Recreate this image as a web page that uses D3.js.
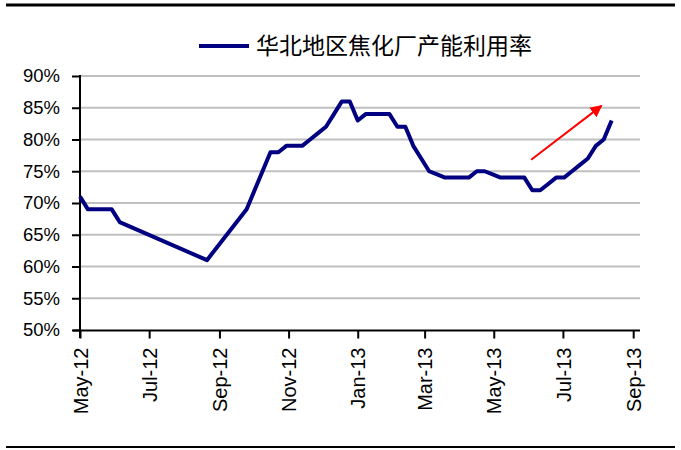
<!DOCTYPE html>
<html>
<head>
<meta charset="utf-8">
<script src="https://cdn.jsdelivr.net/npm/d3@7"></script>
<style>
html,body{margin:0;padding:0;background:#fff;}
svg{display:block;}
</style>
</head>
<body>
<svg id="chart" width="681" height="450"></svg>
<script>
const seriesName = "华北地区焦化厂产能利用率";
const dates = ["2012-05-01","2012-05-08","2012-05-15","2012-05-22","2012-05-29","2012-06-05","2012-08-21","2012-09-25","2012-10-02","2012-10-09","2012-10-16","2012-10-23","2012-10-30","2012-11-06","2012-11-13","2012-11-20","2012-11-27","2012-12-04","2012-12-11","2012-12-18","2012-12-25","2013-01-01","2013-01-08","2013-01-15","2013-01-22","2013-01-29","2013-02-05","2013-02-12","2013-02-19","2013-02-26","2013-03-05","2013-03-12","2013-03-19","2013-03-26","2013-04-02","2013-04-09","2013-04-16","2013-04-23","2013-04-30","2013-05-07","2013-05-14","2013-05-21","2013-05-28","2013-06-04","2013-06-11","2013-06-18","2013-06-25","2013-07-02","2013-07-09","2013-07-16","2013-07-23","2013-07-30","2013-08-06","2013-08-13"];
const values = [71,69,69,69,69,67,61,69,72,75,78,78,79,79,79,80,81,82,84,86,86,83,84,84,84,84,82,82,79,77,75,74.5,74,74,74,74,75,75,74.5,74,74,74,74,72,72,73,74,74,75,76,77,79,80,83];
const yTicks = [50,55,60,65,70,75,80,85,90];
const xTickDates = ["2012-05-01","2012-07-01","2012-09-01","2012-11-01","2013-01-01","2013-03-01","2013-05-01","2013-07-01","2013-09-01"];
const xTickLabels = ["May-12","Jul-12","Sep-12","Nov-12","Jan-13","Mar-13","May-13","Jul-13","Sep-13"];
const arrowFrom = ["2013-06-03", 76.8];
const arrowTo = ["2013-08-04", 85.3];

const parse = d3.utcParse("%Y-%m-%d");
const svg = d3.select("#chart");

const x = d3.scaleUtc().domain([parse("2012-05-01"), parse("2013-09-07")]).range([80, 640]);
const y = d3.scaleLinear().domain([50, 90]).range([330, 76]);

const axisFont = "'Liberation Sans', Arial, sans-serif";

// frame lines
svg.append("line").attr("x1",6).attr("x2",675).attr("y1",5).attr("y2",5).attr("stroke","#000").attr("stroke-width",3);
svg.append("line").attr("x1",6).attr("x2",675).attr("y1",447).attr("y2",447).attr("stroke","#000").attr("stroke-width",2);

// gridlines
svg.append("g").selectAll("line").data(yTicks.filter(v=>v>50)).join("line")
  .attr("x1",80).attr("x2",640)
  .attr("y1",d=>y(d)).attr("y2",d=>y(d))
  .attr("stroke","#c0c0c0").attr("stroke-width",2);

// y axis
const yAxis = d3.axisLeft(y).tickValues(yTicks).tickSize(8).tickPadding(12).tickFormat(d=>d+"%");
const gy = svg.append("g").attr("transform","translate(80,0)").call(yAxis);
gy.select(".domain").remove();
gy.append("line").attr("x1",0).attr("x2",0).attr("y1",75).attr("y2",338).attr("stroke","#000").attr("stroke-width",2);
gy.selectAll(".tick line").attr("stroke","#000").attr("stroke-width",2);
gy.selectAll(".tick text").attr("fill","#000").style("font-family",axisFont).style("font-size","18.5px");

// x axis
const xAxis = d3.axisBottom(x).tickValues(xTickDates.map(parse)).tickSize(8)
  .tickFormat((d,i)=>xTickLabels[i]);
const gx = svg.append("g").attr("transform","translate(0,330.5)").call(xAxis);
gx.select(".domain").remove();
gx.append("line").attr("x1",73).attr("x2",640).attr("y1",0).attr("y2",0).attr("stroke","#000").attr("stroke-width",2);
gx.selectAll(".tick line").attr("stroke","#000").attr("stroke-width",2);
gx.selectAll(".tick text")
  .attr("fill","#000")
  .style("font-family",axisFont).style("font-size","20px")
  .attr("text-anchor","end")
  .attr("transform","rotate(-90)")
  .attr("x",-17).attr("y",0).attr("dy","0.36em");

// series line
const data = dates.map((d,i)=>({date:parse(d), v:values[i]}));
const line = d3.line().x(d=>x(d.date)).y(d=>y(d.v));
svg.append("path").datum(data)
  .attr("d",line).attr("fill","none")
  .attr("stroke","#000080").attr("stroke-width",4)
  .attr("stroke-linejoin","round").attr("stroke-linecap","butt");

// arrow annotation
const defs = svg.append("defs");
defs.append("marker").attr("id","arrowhead")
  .attr("viewBox","0 0 10 10").attr("refX",9).attr("refY",5)
  .attr("markerWidth",6).attr("markerHeight",6)
  .attr("markerUnits","strokeWidth")
  .attr("orient","auto")
  .append("path").attr("d","M0,0 L10,5 L0,10 Z").attr("fill","#ff0000");
svg.append("line")
  .attr("x1",x(parse(arrowFrom[0]))).attr("y1",y(arrowFrom[1]))
  .attr("x2",x(parse(arrowTo[0]))).attr("y2",y(arrowTo[1]))
  .attr("stroke","#ff0000").attr("stroke-width",2)
  .attr("marker-end","url(#arrowhead)");

// legend
const lg = svg.append("g");
lg.append("line").attr("x1",199).attr("x2",249).attr("y1",46).attr("y2",46)
  .attr("stroke","#000080").attr("stroke-width",4);
lg.append("text").attr("x",256).attr("y",46).attr("dy","0.36em")
  .style("font-family","'Noto Sans CJK SC', sans-serif").style("font-size","23px")
  .attr("fill","#000").text(seriesName);
</script>
</body>
</html>
